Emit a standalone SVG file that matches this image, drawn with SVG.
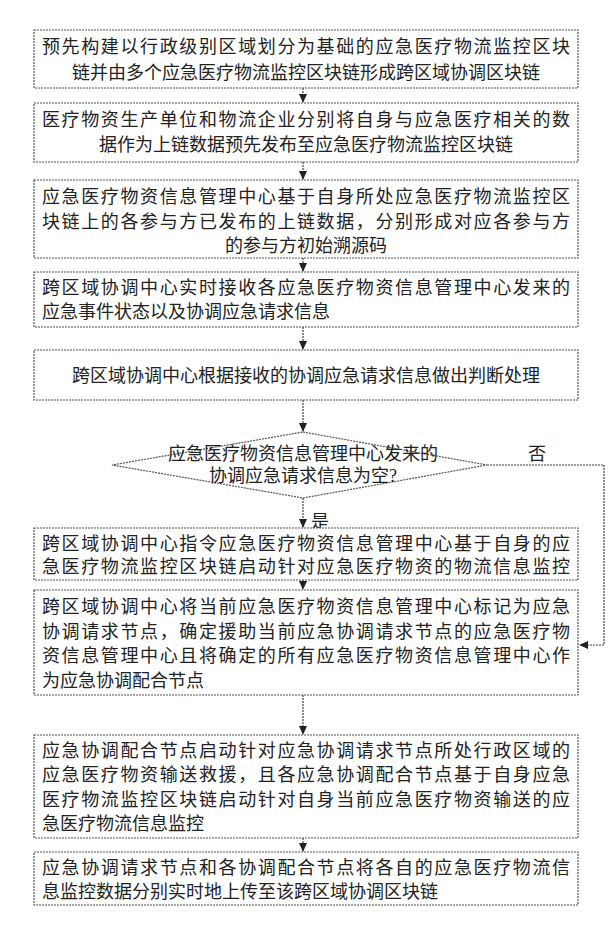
<svg xmlns="http://www.w3.org/2000/svg" width="611" height="936" viewBox="0 0 611 936">
<style>
rect{fill:#fff;stroke:#555;stroke-width:1.2;stroke-dasharray:2 1}
text{font-family:"Liberation Serif","Noto Sans CJK SC",serif;font-size:18px;fill:#222}
.c{text-anchor:middle}
.ln{stroke:#444;stroke-width:1.2;fill:none;stroke-dasharray:2 1}
</style>
<defs><marker id="a" markerWidth="10" markerHeight="10" refX="8" refY="5" orient="auto" markerUnits="userSpaceOnUse"><path d="M0,1 L9,5 L0,9 Z" fill="#222"/></marker></defs>
<rect width="611" height="936" style="fill:#fff;stroke:none"/>
<g id="connectors">
<path class="ln" d="M303,88 V102" marker-end="url(#a)"/>
<path class="ln" d="M303,162 V179" marker-end="url(#a)"/>
<path class="ln" d="M303,258 V271" marker-end="url(#a)"/>
<path class="ln" d="M303,327 V349" marker-end="url(#a)"/>
<path class="ln" d="M303,400 V431" marker-end="url(#a)"/>
<path class="ln" d="M303,498 V527" marker-end="url(#a)"/>
<path class="ln" d="M303,580 V589" marker-end="url(#a)"/>
<path class="ln" d="M303,695 V734" marker-end="url(#a)"/>
<path class="ln" d="M303,838 V851" marker-end="url(#a)"/>
<path class="ln" d="M487,465 H604 V645 H580" marker-end="url(#a)"/>
<text x="537" y="460" class="c">否</text>
<text x="320" y="528" class="c">是</text>
</g>
<g id="n1"><rect x="34" y="30" width="544" height="58"/>
<text x="42" y="53" textLength="528">预先构建以行政级别区域划分为基础的应急医疗物流监控区块</text>
<text x="306" y="79" class="c">链并由多个应急医疗物流监控区块链形成跨区域协调区块链</text></g>
<g id="n2"><rect x="34" y="103" width="544" height="59"/>
<text x="42" y="126" textLength="528">医疗物资生产单位和物流企业分别将自身与应急医疗相关的数</text>
<text x="306" y="151" class="c">据作为上链数据预先发布至应急医疗物流监控区块链</text></g>
<g id="n3"><rect x="34" y="180" width="544" height="78"/>
<text x="42" y="203" textLength="528">应急医疗物资信息管理中心基于自身所处应急医疗物流监控区</text>
<text x="42" y="228" textLength="528">块链上的各参与方已发布的上链数据，分别形成对应各参与方</text>
<text x="306" y="252" class="c">的参与方初始溯源码</text></g>
<g id="n4"><rect x="34" y="272" width="544" height="55"/>
<text x="42" y="294" textLength="528">跨区域协调中心实时接收各应急医疗物资信息管理中心发来的</text>
<text x="42" y="318">应急事件状态以及协调应急请求信息</text></g>
<g id="n5"><rect x="34" y="350" width="544" height="50"/>
<text x="306" y="382" class="c">跨区域协调中心根据接收的协调应急请求信息做出判断处理</text></g>
<g id="n6"><path d="M303,432 L487,465 L303,498 L112,465 Z" style="fill:#fff;stroke:#555;stroke-width:1.2;stroke-dasharray:2 1"/>
<text x="303" y="460" class="c">应急医疗物资信息管理中心发来的</text>
<text x="303" y="482" class="c">协调应急请求信息为空?</text></g>
<g id="n7"><rect x="34" y="528" width="544" height="52"/>
<text x="42" y="550" textLength="528">跨区域协调中心指令应急医疗物资信息管理中心基于自身的应</text>
<text x="42" y="573" textLength="528">急医疗物流监控区块链启动针对应急医疗物资的物流信息监控</text></g>
<g id="n8"><rect x="34" y="590" width="544" height="105"/>
<text x="42" y="613" textLength="528">跨区域协调中心将当前应急医疗物资信息管理中心标记为应急</text>
<text x="42" y="638" textLength="528">协调请求节点，确定援助当前应急协调请求节点的应急医疗物</text>
<text x="42" y="662" textLength="528">资信息管理中心且将确定的所有应急医疗物资信息管理中心作</text>
<text x="42" y="687">为应急协调配合节点</text></g>
<g id="n9"><rect x="34" y="735" width="544" height="103"/>
<text x="42" y="757" textLength="528">应急协调配合节点启动针对应急协调请求节点所处行政区域的</text>
<text x="42" y="781" textLength="528">应急医疗物资输送救援，且各应急协调配合节点基于自身应急</text>
<text x="42" y="806" textLength="528">医疗物流监控区块链启动针对自身当前应急医疗物资输送的应</text>
<text x="42" y="830">急医疗物流信息监控</text></g>
<g id="n10"><rect x="34" y="852" width="544" height="53"/>
<text x="42" y="874" textLength="528">应急协调请求节点和各协调配合节点将各自的应急医疗物流信</text>
<text x="42" y="898">息监控数据分别实时地上传至该跨区域协调区块链</text></g>
</svg>
